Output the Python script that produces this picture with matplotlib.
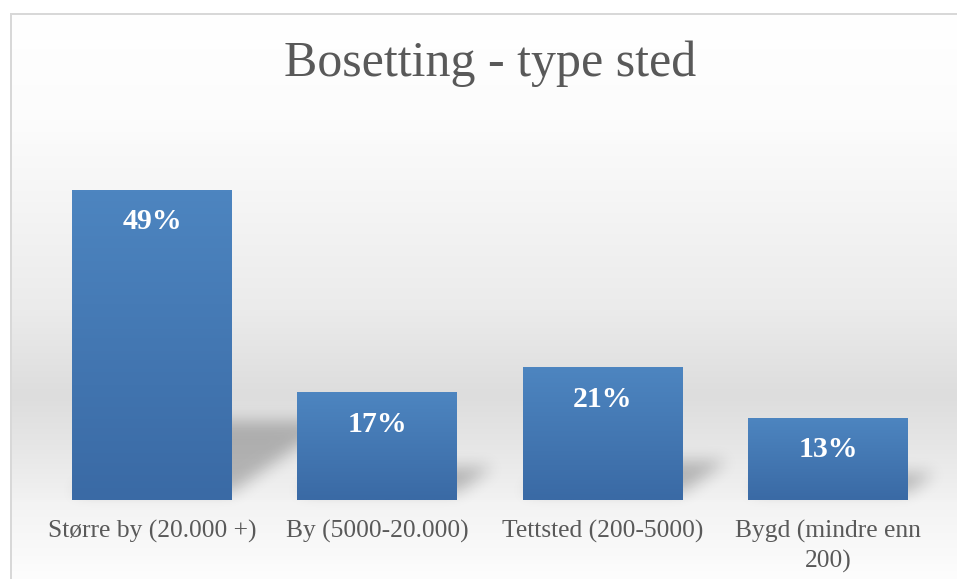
import numpy as np
import matplotlib.pyplot as plt
from matplotlib.colors import LinearSegmentedColormap

title = 'Bosetting - type sted'
categories = ['Større by (20.000 +)', 'By (5000-20.000)', 'Tettsted (200-5000)',
              'Bygd (mindre enn\n200)']
values = [49, 17, 21, 13]
value_labels = ['49%', '17%', '21%', '13%']

W, H = 957, 579
plt.rcParams['font.family'] = ['Liberation Serif', 'DejaVu Serif']
fig = plt.figure(figsize=(W / 100, H / 100), dpi=100)

# background: white -> grey "wall", lighter "floor" below the bars
bg = fig.add_axes([0, 0, 1, 1], zorder=0)
bg.set_xlim(0, W)
bg.set_ylim(H, 0)
bg.axis('off')
rows = np.arange(H) + 0.5
shade = np.interp(rows, [14, 120, 180, 310, 395, 440, 498, 502, 579],
                  [255, 252, 247, 235, 221, 229, 241, 243, 253]) / 255
img = np.ones((H, W, 3)) * shade[:, None, None]
img[:13, :, :] = 1
img[:, :10, :] = 1
img[13:15, 10:, :] = 0.85
img[13:, 10:12, :] = 0.85
bg.imshow(img, extent=(0, W, H, 0), interpolation='nearest', aspect='auto', zorder=0)

ax = fig.add_axes([39.4 / W, 79 / H, 901.2 / W, 379.6 / H], zorder=2)
ax.patch.set_alpha(0)
bars = ax.bar(range(len(values)), values, width=0.71, color='#4577b3', zorder=3)
ax.set_xlim(-0.5, len(values) - 0.5)
ax.set_ylim(0, 60)

# vertical gradient on each bar
cmap = LinearSegmentedColormap.from_list('bar', ['#4d85c0', '#3a6aa5'])
grad = np.linspace(0, 1, 100)[:, None]
for b in bars:
    x0, w, h = b.get_x(), b.get_width(), b.get_height()
    im = ax.imshow(grad, cmap=cmap, extent=(x0, x0 + w, 0, h), origin='upper',
                   aspect='auto', zorder=4)
    im.set_clip_path(b)
ax.set_xlim(-0.5, len(values) - 0.5)
ax.set_ylim(0, 60)


def box_blur(a, r):
    for axis in (0, 1):
        pad = [(0, 0), (0, 0)]
        pad[axis] = (r + 1, r)
        c = np.cumsum(np.pad(a, pad, mode='edge'), axis=axis)
        n = a.shape[axis]
        if axis == 0:
            a = (c[2 * r + 1:2 * r + 1 + n] - c[:n]) / (2 * r + 1)
        else:
            a = (c[:, 2 * r + 1:2 * r + 1 + n] - c[:, :n]) / (2 * r + 1)
    return a


# perspective shadows behind the bars
yy, xx = np.mgrid[0:H, 0:W] + 0.5
mask = np.zeros((H, W))
for b in bars:
    (px0, py0), (px1, py1) = ax.transData.transform(
        [(b.get_x(), 0), (b.get_x() + b.get_width(), b.get_height())])
    hpx = py1 - py0
    base = H - py0 - 8
    dy, dx = 0.23 * hpx, 0.33 * hpx
    t = (base - yy) / dy
    inside = (t >= 0) & (t <= 1) & (xx >= px0 + t * dx) & (xx <= px1 + t * dx)
    mask[inside] = 1
for _ in range(3):
    mask = box_blur(mask, 7)
shadow = np.zeros((H, W, 4))
shadow[:, :, 3] = 0.24 * mask
bg.imshow(shadow, extent=(0, W, H, 0), interpolation='bilinear', aspect='auto', zorder=1)

for b, lab in zip(bars, value_labels):
    ax.annotate(lab, xy=(b.get_x() + b.get_width() / 2, b.get_height()),
                xytext=(0, -23), textcoords='offset points', ha='center', va='center',
                color='white', fontweight='bold', fontsize=21.5, zorder=5)

ax.set_xticks(range(len(categories)), categories)
ax.tick_params(axis='x', length=0, pad=14, labelsize=18.4, labelcolor='#595959')
for t in ax.get_xticklabels():
    t.set_multialignment('center')
    t.set_linespacing(1.4)
ax.set_yticks([])
for s in ax.spines.values():
    s.set_visible(False)

fig.text(490 / W, 1 - 64 / H, title, ha='center', va='center', fontsize=36, color='#595959')

fig.savefig('out.png', dpi=100)
